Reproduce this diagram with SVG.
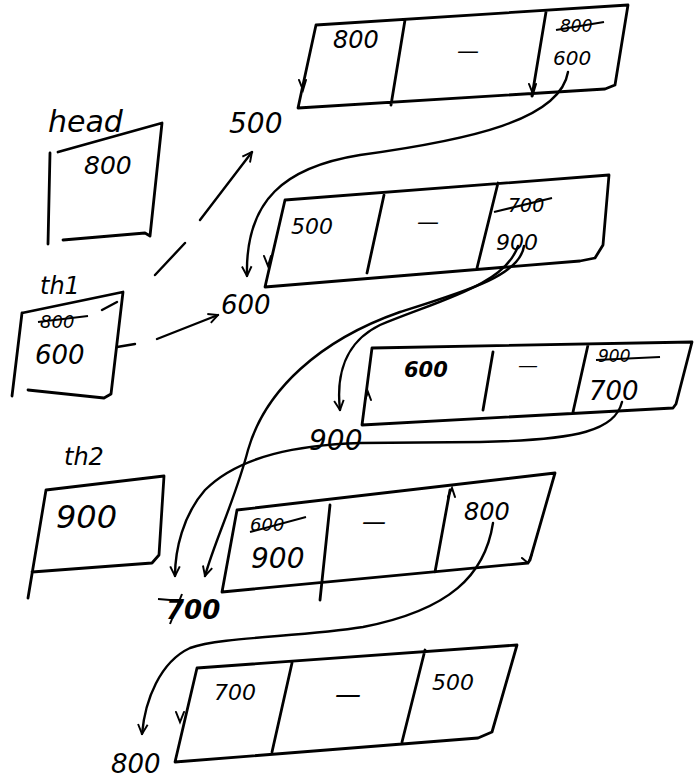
<svg xmlns="http://www.w3.org/2000/svg" width="696" height="780" viewBox="0 0 696 780">
<style>
.b{fill:none;stroke:#000;stroke-width:2.8;stroke-linecap:round;stroke-linejoin:round}
.c{fill:none;stroke:#000;stroke-width:2.4;stroke-linecap:round}
.d{fill:none;stroke:#000;stroke-width:2.4;stroke-linecap:round}
.t{font-family:"DejaVu Sans","Liberation Sans",sans-serif;font-style:italic;fill:#000}
.s{stroke:#000;stroke-width:2;fill:none}
.tk{fill:none;stroke:#000;stroke-width:2;stroke-linecap:round}
</style>
<defs>
<marker id="arr" viewBox="0 0 10 10" refX="9" refY="5" markerWidth="12" markerHeight="12" markerUnits="userSpaceOnUse" orient="auto">
<path d="M1,1 L9,5 L1,9" fill="none" stroke="#000" stroke-width="1.6"/>
</marker>
</defs>
<rect width="696" height="780" fill="#fff"/>

<g id="head">
<text class="t" x="48" y="132" font-size="30">head</text>
<path class="b" d="M50,153 L48,244 M58,152 L162,123 L150,236 L145,233 L63,240"/>
<text class="t" x="84" y="174" font-size="25">800</text>
</g>

<g id="th1">
<text class="t" x="40" y="294" font-size="24">th1</text>
<path class="b" d="M22,313 L12,396 M22,313 L123,292 L111,394 L104,398 L28,390"/>
<text class="t" x="40" y="328" font-size="18">800</text>
<line class="s" x1="38" y1="322" x2="88" y2="316"/>
<text class="t" x="35" y="364" font-size="26">600</text>
</g>

<g id="th2">
<text class="t" x="64" y="465" font-size="24">th2</text>
<path class="b" d="M46,490 L28,598 M46,490 L164,476 L159,555 L152,563 L32,572"/>
<text class="t" x="56" y="528" font-size="32">900</text>
</g>

<g id="node1">
<path class="b" d="M316,25 L628,5 L615,85 L605,89 L298,108 Z M405,20 L391,105 M546,12 L532,96"/>
<text class="t" x="333" y="48" font-size="24">800</text>
<text class="t" x="468" y="58" font-size="22" text-anchor="middle">—</text>
<text class="t" x="560" y="32" font-size="17">800</text>
<line class="s" x1="556" y1="30" x2="604" y2="22"/>
<text class="t" x="553" y="65" font-size="20">600</text>
</g>

<g id="node2">
<path class="b" d="M285,200 L609,175 L603,245 L595,258 L580,261 L265,287 Z M384,195 L367,273 M498,183 L477,268"/>
<text class="t" x="291" y="234" font-size="22">500</text>
<text class="t" x="428" y="229" font-size="22" text-anchor="middle">—</text>
<text class="t" x="508" y="212" font-size="19">700</text>
<line class="s" x1="494" y1="212" x2="552" y2="198"/>
<text class="t" x="496" y="250" font-size="22">900</text>
</g>

<g id="node3">
<path class="b" d="M372,348 L692,342 L676,404 L673,408 L362,425 Z M493,352 L483,410 M588,345 L573,412"/>
<text class="t" x="404" y="377" font-size="21" font-weight="bold">600</text>
<text class="t" x="528" y="372" font-size="20" text-anchor="middle">—</text>
<text class="t" x="598" y="362" font-size="17">900</text>
<line class="s" x1="596" y1="360" x2="660" y2="357"/>
<text class="t" x="589" y="400" font-size="26">700</text>
</g>

<g id="node4">
<path class="b" d="M237,510 L555,473 L530,560 L528,563 L222,592 Z M330,505 L320,600 M450,490 L435,572"/>
<text class="t" x="250" y="531" font-size="18">600</text>
<line class="s" x1="250" y1="532" x2="306" y2="517"/>
<text class="t" x="251" y="568" font-size="28">900</text>
<text class="t" x="374" y="530" font-size="24" text-anchor="middle">—</text>
<text class="t" x="464" y="520" font-size="24">800</text>
</g>

<g id="node5">
<path class="b" d="M197,668 L517,645 L492,732 L478,738 L175,762 Z M292,663 L272,752 M425,650 L402,742"/>
<text class="t" x="214" y="700" font-size="22">700</text>
<text class="t" x="348" y="703" font-size="26" text-anchor="middle">—</text>
<text class="t" x="432" y="690" font-size="22">500</text>
</g>

<g id="labels">
<text class="t" x="229" y="133" font-size="28">500</text>
<text class="t" x="221" y="314" font-size="26">600</text>
<text class="t" x="309" y="450" font-size="28">900</text>
<text class="t" x="166" y="619" font-size="26" font-weight="bold">700</text>
<line class="s" x1="158" y1="599" x2="182" y2="601"/>
<line class="s" x1="170" y1="624" x2="182" y2="594"/>
<text class="t" x="111" y="773" font-size="26">800</text>
</g>

<g id="connectors">
<path class="c" marker-end="url(#arr)" d="M568,72 C560,120 470,140 360,155 C285,167 245,200 247,276"/>
<path class="c" marker-end="url(#arr)" d="M518,246 C505,285 440,300 380,325 C345,342 336,375 340,410"/>
<path class="c" marker-end="url(#arr)" d="M524,246 C520,275 470,290 400,312 C320,340 265,390 248,450 C235,500 215,540 205,576"/>
<path class="c" marker-end="url(#arr)" d="M622,402 C615,430 580,440 480,442 L360,443 C300,445 240,455 205,490 C183,515 175,550 175,576"/>
<path class="c" marker-end="url(#arr)" d="M493,523 C485,575 450,610 363,627 C300,637 220,637 190,648 C160,662 145,700 142,734"/>
<path class="d" marker-end="url(#arr)" d="M102,310 L117,302 M155,275 L185,243 M200,220 L252,152"/>
<path class="d" marker-end="url(#arr)" d="M117,347 L135,344 M157,339 L218,315"/>
<path class="tk" d="M299,80 L303,90 L306,80 M264,256 L268,266 L271,256 M365,400 L368,392 L371,400 M448,497 L452,488 L455,497 M522,558 L528,563 L532,554 M176,712 L180,722 L184,712 M529,84 L533,94 L536,84"/>
</g>
</svg>
